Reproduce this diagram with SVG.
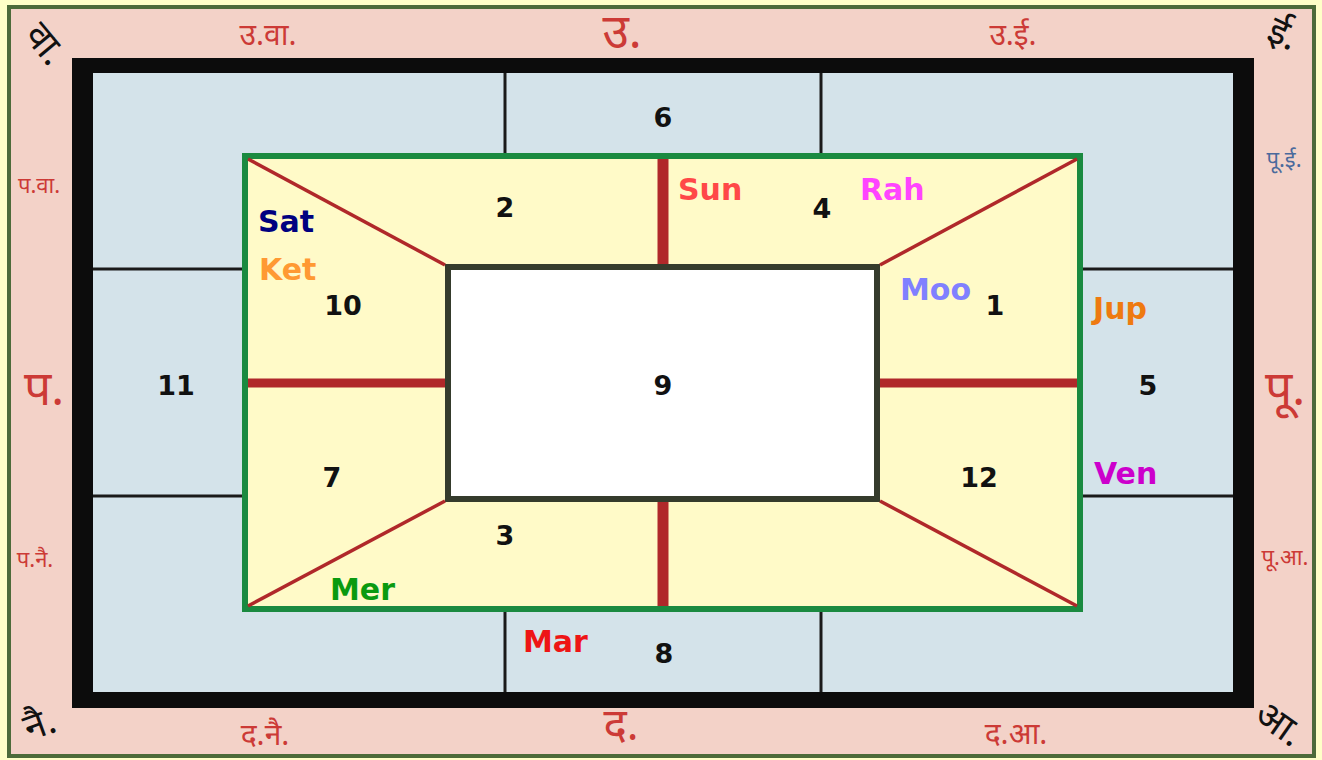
<svg xmlns="http://www.w3.org/2000/svg" width="1322" height="760" viewBox="0 0 1322 760">
<style>
.num{font-family:"DejaVu Sans",Verdana,sans-serif;font-weight:bold;font-size:27px;fill:#111;text-anchor:middle}
.pl{font-family:"DejaVu Sans",Verdana,sans-serif;font-weight:bold;font-size:30px}
.dir{font-family:"Noto Sans Devanagari","Noto Sans","Lohit Devanagari",sans-serif;fill:#cc3a36;text-anchor:middle}
.big{font-size:48px}
.big2{font-size:44px}
.mid{font-size:30px}
.sm{font-size:22px}
.cor{font-family:"Noto Sans Devanagari","Noto Sans","Lohit Devanagari",sans-serif;fill:#111;font-size:38px;text-anchor:middle}
.div{stroke:#1a1a1a;stroke-width:3}
.red{stroke:#b0282a}
</style>
<rect x="0" y="0" width="1322" height="760" fill="#ffffc8"/>
<rect x="9" y="7" width="1305" height="749" fill="#f3d2c8" stroke="#4d6b3a" stroke-width="4"/>
<rect x="72" y="58" width="1182" height="650" fill="#0c0c0c"/>
<rect x="93" y="73" width="1140" height="619" fill="#d4e3ea"/>
<g id="connectors">
<line class="div" x1="505" y1="73" x2="505" y2="156"/>
<line class="div" x1="821" y1="73" x2="821" y2="156"/>
<line class="div" x1="505" y1="609" x2="505" y2="692"/>
<line class="div" x1="821" y1="609" x2="821" y2="692"/>
<line class="div" x1="93" y1="269" x2="245" y2="269"/>
<line class="div" x1="93" y1="496" x2="245" y2="496"/>
<line class="div" x1="1080" y1="269" x2="1233" y2="269"/>
<line class="div" x1="1080" y1="496" x2="1233" y2="496"/>
</g>
<rect x="245" y="156" width="835" height="453" fill="#fffac8" stroke="#1a8a40" stroke-width="6"/>
<rect x="448" y="267" width="429" height="232" fill="#ffffff" stroke="#353b2c" stroke-width="6"/>
<g id="inner-lines">
<line class="red" x1="663" y1="159" x2="663" y2="264" stroke-width="11"/>
<line class="red" x1="663" y1="502" x2="663" y2="606" stroke-width="11"/>
<line class="red" x1="248" y1="383" x2="445" y2="383" stroke-width="9"/>
<line class="red" x1="880" y1="383" x2="1077" y2="383" stroke-width="9"/>
<line class="red" x1="248" y1="159" x2="445" y2="265" stroke-width="3.5"/>
<line class="red" x1="1077" y1="159" x2="880" y2="265" stroke-width="3.5"/>
<line class="red" x1="248" y1="606" x2="445" y2="501" stroke-width="3.5"/>
<line class="red" x1="1077" y1="606" x2="880" y2="501" stroke-width="3.5"/>
</g>
<g id="h1"><text class="num" x="995" y="315">1</text><text class="pl" x="900" y="300" fill="#8080ff">Moo</text></g>
<g id="h2"><text class="num" x="505" y="217">2</text></g>
<g id="h3"><text class="num" x="505" y="545">3</text><text class="pl" x="330" y="600" fill="#0a9a10">Mer</text></g>
<g id="h4"><text class="num" x="822" y="218">4</text><text class="pl" x="678" y="200" fill="#ff4848">Sun</text><text class="pl" x="860" y="200" fill="#ff44ff">Rah</text></g>
<g id="h5"><text class="num" x="1148" y="395">5</text><text class="pl" x="1093" y="319" fill="#ee7a10">Jup</text><text class="pl" x="1094" y="484" fill="#cc00cc">Ven</text></g>
<g id="h6"><text class="num" x="663" y="127">6</text></g>
<g id="h7"><text class="num" x="332" y="487">7</text></g>
<g id="h8"><text class="num" x="664" y="663">8</text><text class="pl" x="523" y="652" fill="#ee1515">Mar</text></g>
<g id="h9"><text class="num" x="663" y="395">9</text></g>
<g id="h10"><text class="num" x="343" y="315">10</text><text class="pl" x="258" y="232" fill="#000080">Sat</text><text class="pl" x="259" y="280" fill="#ff9933">Ket</text></g>
<g id="h11"><text class="num" x="176" y="395">11</text></g>
<g id="h12"><text class="num" x="979" y="487">12</text></g>
<g id="directions">
<text class="dir big" x="622" y="48">उ.</text>
<text class="dir mid" x="268" y="45">उ.वा.</text>
<text class="dir mid" x="1013" y="45">उ.ई.</text>
<text class="dir sm" x="39" y="193">प.वा.</text>
<text class="dir big" x="44" y="405">प.</text>
<text class="dir sm" x="35" y="567">प.नै.</text>
<text class="dir sm" x="1284" y="167" style="fill:#4a6a9c">पू.ई.</text>
<text class="dir big" x="1285" y="405">पू.</text>
<text class="dir sm" x="1285" y="565">पू.आ.</text>
<text class="dir mid" x="265" y="745">द.नै.</text>
<text class="dir big2" x="621" y="740">द.</text>
<text class="dir mid" x="1016" y="744">द.आ.</text>
</g>
<g id="corners">
<text class="cor" transform="translate(36,52) rotate(50)">वा.</text>
<text class="cor" transform="translate(1278,45) rotate(25)">ई.</text>
<text class="cor" transform="translate(44,736) rotate(-20)">नै.</text>
<text class="cor" transform="translate(1272,734) rotate(35)">आ.</text>
</g>
</svg>
